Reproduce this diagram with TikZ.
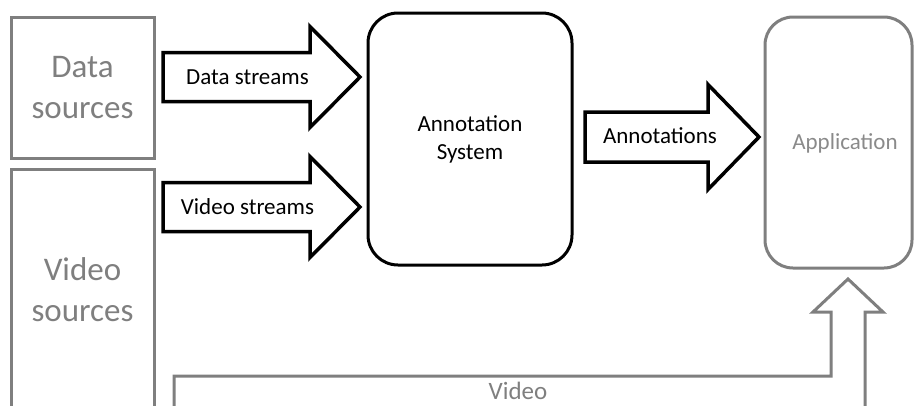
\documentclass[tikz,border=0pt]{standalone}
\usepackage{fontspec}
\setmainfont{Carlito}
\definecolor{srcgray}{HTML}{7F7F7F}
\definecolor{apptext}{HTML}{8A8A8A}
% Horizontal block arrow: #1 tail x, #2 head base x, #3 tip x, #4 centre y,
% #5 half shaft width, #6 half head width
\newcommand\blockarrowR[6]{%
  \draw[blockline] (#1,#4-#5) -- (#2,#4-#5) -- (#2,#4-#6) -- (#3,#4)
    -- (#2,#4+#6) -- (#2,#4+#5) -- (#1,#4+#5) -- cycle;}
\tikzset{
  srcbox/.style={draw=srcgray, line width=3pt, text=srcgray, align=center,
    font=\fontsize{33}{41}\selectfont, inner sep=0pt},
  sysbox/.style={draw=black, line width=3pt, rounded corners=30pt, align=center,
    font=\fontsize{23}{28}\selectfont, inner sep=0pt},
  appbox/.style={draw=srcgray, line width=3pt, rounded corners=28pt, inner sep=0pt},
  blockline/.style={draw=black, line width=3.5pt, fill=white, line join=miter},
  grayline/.style={draw=srcgray, line width=3pt, fill=white, line join=miter},
  arrowtext/.style={font=\fontsize{23}{27}\selectfont, inner sep=0pt},
}
\begin{document}
\begin{tikzpicture}[x=1pt,y=-1pt]
\useasboundingbox (0,0) rectangle (914,405);
\clip (0,0) rectangle (914,405);

% source boxes
\node[srcbox, minimum width=143pt, minimum height=141pt] (data) at (82.5,87.5)
  {Data\\sources};
\node[srcbox, minimum width=143pt, minimum height=242pt] (video) at (82.5,290)
  {Video\\sources};

% annotation system and application
\node[sysbox, minimum width=204pt, minimum height=252pt] (annsys) at (470,139)
  {Annotation\\System};
\node[appbox, minimum width=147pt, minimum height=251pt] (app) at (838.5,142.5) {};
\node[arrowtext, text=apptext] (applabel) at (845,143) {Application};

% stream arrows into the annotation system
\blockarrowR{163}{310}{360}{77}{24.5}{50.5}
\node[arrowtext] (dstreams) at (247.5,77) {Data streams};
\blockarrowR{163}{310}{360}{207}{24.5}{50.5}
\node[arrowtext] (vstreams) at (247.5,207) {Video streams};

% annotations out to the application
\blockarrowR{585}{708}{759}{137}{25}{52.5}
\node[arrowtext] (annot) at (660,136) {Annotations};

% bent video arrow feeding the application from below
\draw[grayline] (174,440) -- (174,376) -- (831,376) -- (831,312) -- (813,312)
  -- (848,279) -- (883,312) -- (865,312) -- (865,410) -- (208,410) -- (208,440);
\node[arrowtext, text=srcgray, font=\fontsize{25}{30}\selectfont] (vlabel) at (518,391) {Video};
\end{tikzpicture}
\end{document}
